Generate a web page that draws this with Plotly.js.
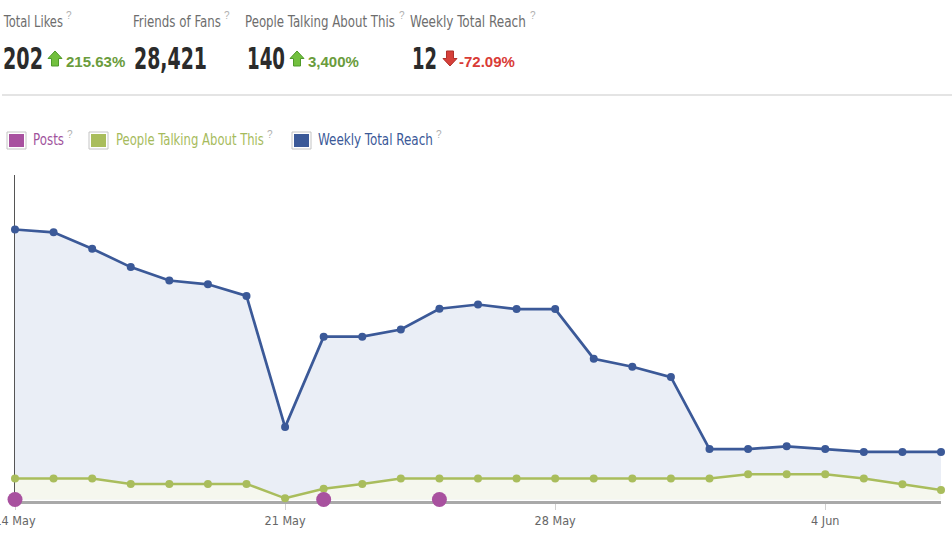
<!DOCTYPE html>
<html>
<head>
<meta charset="utf-8">
<script src="https://cdn.plot.ly/plotly-3.0.1.min.js"></script>
<style>html,body{margin:0;padding:0;background:#fff;}#chart{width:952px;height:550px;}</style>
</head>
<body>
<div id="chart"></div>
<script>
// ---- data ----
const dates = ['2012-05-14','2012-05-15','2012-05-16','2012-05-17','2012-05-18','2012-05-19','2012-05-20',
  '2012-05-21','2012-05-22','2012-05-23','2012-05-24','2012-05-25','2012-05-26','2012-05-27',
  '2012-05-28','2012-05-29','2012-05-30','2012-05-31','2012-06-01','2012-06-02','2012-06-03',
  '2012-06-04','2012-06-05','2012-06-06','2012-06-07'];
const weeklyReach = [67.5,66.8,62.7,58.1,54.75,53.8,50.9,18.1,40.7,40.7,42.5,47.7,48.75,47.6,
  47.6,35.2,33.2,30.6,12.6,12.6,13.3,12.6,11.9,11.9,11.9];
const peopleTalking = [5.25,5.25,5.25,3.9,3.9,3.9,3.9,0.3,2.7,3.9,5.25,5.25,5.25,5.25,
  5.25,5.25,5.25,5.25,5.25,6.3,6.3,6.3,5.25,3.8,2.4];
const postDates = ['2012-05-14','2012-05-22','2012-05-25'];
const postValues = [0,0,0];
const tickDates = ['2012-05-14','2012-05-21','2012-05-28','2012-06-04'];

const statLabels = ['Total Likes','Friends of Fans','People Talking About This','Weekly Total Reach'];
const statValues = ['202','28,421','140','12'];
const statChanges = ['215.63%','','3,400%','-72.09%'];
const legendLabels = ['Posts','People Talking About This','Weekly Total Reach'];

// ---- geometry helpers ----
const W=952,H=550,L=15,R=11,T=175,B=49;
const PW=W-L-R, PH=H-T-B;
const px = x => (x-L)/PW;
const py = y => (H-B-y)/PH;
const K = 4; // px per unit
const yMin = -1.5/K, yMax = yMin + PH/K;

const COND = '"DejaVu Sans Condensed","Liberation Sans Narrow",sans-serif';
const SANS = '"Liberation Sans",Arial,sans-serif';

const BLUE='#3b5998', GREEN='#a9bd5c', PURPLE='#a8519f';

const traces = [
  {x:dates, y:weeklyReach, type:'scatter', mode:'lines+markers', fill:'tozeroy', fillcolor:'#eaeef6',
   line:{color:BLUE,width:2.7}, marker:{color:BLUE,size:8}, cliponaxis:false, hoverinfo:'skip'},
  {x:dates, y:peopleTalking, type:'scatter', mode:'lines+markers', fill:'tozeroy', fillcolor:'#f5f7ee',
   line:{color:GREEN,width:2.5}, marker:{color:GREEN,size:8}, cliponaxis:false, hoverinfo:'skip'},
  {x:postDates, y:postValues, type:'scatter', mode:'markers',
   marker:{color:PURPLE,size:15}, cliponaxis:false, hoverinfo:'skip'}
];

const ann = [];
const fit = {}; // annotation index -> target pixel width
const shapes = [];
function addText(t, x, y, font, width){
  if(width) fit[ann.length] = width;
  ann.push({text:t, x:px(x), y:py(y), xref:'paper', yref:'paper', xanchor:'left', yanchor:'middle',
    align:'left', showarrow:false, borderpad:0, font:font});
}

// header
const labelX = [2,132,244,409];
const labelW = [60,88,150,116];
const qX = [65,223,398,529];
const valX = [2,133,246,411];
const valW = [40,73,38,25];
const arrowX = [48,null,290,443];
const chgX = [65,null,307,458];
const chgColor = ['#6a9c3c',null,'#6a9c3c','#d93b36'];
statLabels.forEach((t,i)=>{
  addText(t, labelX[i], 22, {family:COND,size:15,color:'#6d6d6d'}, labelW[i]);
  addText('?', qX[i], 16, {family:SANS,size:10,color:'#b0b0b0'});
  addText(statValues[i], valX[i], 58, {family:COND,size:30,color:'#2b2b2b',weight:'bold'}, valW[i]);
  if(statChanges[i]) addText(statChanges[i], chgX[i], 61, {family:SANS,size:15,color:chgColor[i],weight:'bold'});
});
function arrowPath(x0, up){
  const w=14, top=51, bot=66, mid=58.5, s0=x0+3.5, s1=x0+10.5, c=x0+w/2;
  let pts;
  if(up) pts=[[c,top],[x0+w,mid],[s1,mid],[s1,bot],[s0,bot],[s0,mid],[x0,mid]];
  else pts=[[c,bot],[x0+w,top+7.5],[s1,top+7.5],[s1,top],[s0,top],[s0,top+7.5],[x0,top+7.5]];
  return 'M'+pts.map(p=>px(p[0]).toFixed(5)+','+py(p[1]).toFixed(5)).join('L')+'Z';
}
arrowX.forEach((ax,i)=>{
  if(ax===null) return;
  const up = i!==3;
  shapes.push({type:'path', xref:'paper', yref:'paper', path:arrowPath(ax,up),
    fillcolor: up?'#72c03e':'#d6403a', line:{color: up?'#4f9a2a':'#b0302b', width:1}});
});

// separator
shapes.push({type:'line', xref:'paper', yref:'paper', x0:px(2), x1:px(952), y0:py(95), y1:py(95),
  line:{color:'#e4e4e4', width:2}});

// legend
const legBoxX = [7,89,292];
const legTextX = [32,115,317];
const legTextW = [31,148,115];
const legQX = [66,266,435];
const legCol = [PURPLE,GREEN,BLUE];
const legTextCol = ['#a0529c','#a6bb5c','#3b5998'];
legendLabels.forEach((t,i)=>{
  const x0=legBoxX[i];
  shapes.push({type:'rect', xref:'paper', yref:'paper', x0:px(x0), x1:px(x0+19), y0:py(132), y1:py(149),
    fillcolor:'#ffffff', line:{color:'#c4c4c4', width:1}});
  shapes.push({type:'rect', xref:'paper', yref:'paper', x0:px(x0+2), x1:px(x0+17), y0:py(134), y1:py(147),
    fillcolor:legCol[i], line:{width:0}});
  addText(t, legTextX[i], 140, {family:COND,size:15,color:legTextCol[i]}, legTextW[i]);
  addText('?', legQX[i], 134, {family:SANS,size:10,color:'#b0b0b0'});
});

const layout = {
  width:W, height:H, margin:{l:L,r:R,t:T,b:B}, paper_bgcolor:'#fff', plot_bgcolor:'#fff',
  showlegend:false, hovermode:false,
  xaxis:{type:'date', range:['2012-05-14','2012-06-07'], tickmode:'array', tickvals:tickDates,
    tickformat:'%-d %b', showline:true, linecolor:'#a9a9a9', linewidth:3, ticks:'outside', ticklen:6,
    tickcolor:'#d0d0d0', tickwidth:1, showgrid:false, zeroline:false, layer:'below traces',
    ticklabeloverflow:'allow', tickfont:{family:COND,size:12.5,color:'#666'}, fixedrange:true},
  yaxis:{range:[yMin,yMax], showline:true, linecolor:'#555', linewidth:1, showticklabels:false,
    ticks:'', showgrid:false, zeroline:false, layer:'below traces', fixedrange:true},
  annotations:ann, shapes:shapes
};
Plotly.newPlot('chart', traces, layout, {displayModeBar:false, staticPlot:true}).then(gd=>{
  // narrow the condensed header/legend texts horizontally to the reference's narrow face
  Object.keys(fit).forEach(i=>{
    const g = gd.querySelector('.annotation[data-index="'+i+'"]');
    if(!g) return;
    const el = g.querySelector('text.annotation-text');
    if(!el) return;
    const bb = el.getBBox();
    if(bb.width > fit[i]){
      const s = fit[i]/bb.width, x0 = bb.x;
      el.setAttribute('transform','translate('+x0+',0) scale('+s+',1) translate('+(-x0)+',0)');
      g.querySelectorAll('rect').forEach(r=>{
        const rw = parseFloat(r.getAttribute('width'));
        if(!isNaN(rw)) r.setAttribute('width', Math.max(0, rw - (bb.width - fit[i])));
      });
    }
  });
});
</script>
</body>
</html>
